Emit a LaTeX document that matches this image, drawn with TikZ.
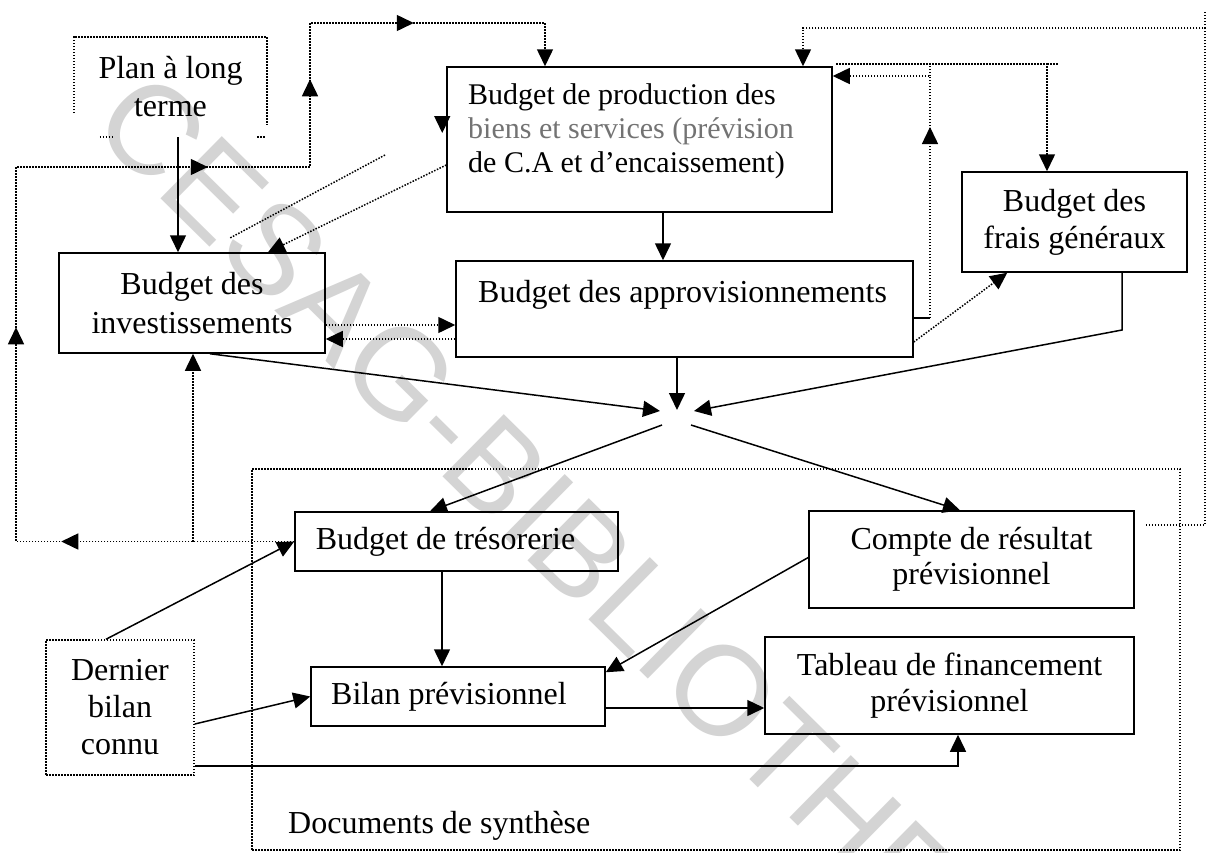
\documentclass[tikz,border=0pt]{standalone}
\usepackage{fontspec}
\setmainfont{Liberation Serif}
\newfontfamily\wmfont{Liberation Sans}
\usetikzlibrary{arrows.meta,decorations.markings}
\tikzset{BigTri/.tip={Triangle[length=17pt,width=16pt]}}
\begin{document}
\begin{tikzpicture}[x=1pt,y=-1pt,
  ln/.style={line width=1.5pt},
  dl/.style={line width=1.5pt, dash pattern=on 1.5pt off 1.5pt},
  tri/.style={-BigTri},
  mids/.style={postaction={decorate,decoration={markings,#1}}},
  box/.style={draw, line width=1.5pt, inner sep=0pt, align=center},
  dbox/.style={draw, line width=1.5pt, dash pattern=on 1.5pt off 1.5pt, inner sep=0pt, align=center},
  txt/.style={font=\fontsize{32}{37}\selectfont},
  wm/.style={font=\wmfont\fontsize{127}{127}\selectfont, text=black!17, inner sep=0pt}
]
\useasboundingbox (0,0) rectangle (1207,852);
\fill[white] (0,0) rectangle (1207,852);

% watermark
\node[wm, rotate=-44.6, anchor=base west] (wmark) at (88.5,127) {CESAG-BIBLIOTHEQUE};

% boxes
\node[minimum width=193pt, minimum height=100pt, inner sep=0pt, align=center, font=\fontsize{32}{38}\selectfont] (plan) at (170.5,87) {Plan à long\\terme};
\draw[dl] (plan.south west) ++(0,-24) -- (plan.north west) -- (plan.north east) -- ++(0,88);
\draw[dl] ([xshift=26pt]plan.south west) -- ++(15,0);
\draw[dl] ([xshift=-10pt]plan.south east) -- ++(8,0);

\node[box, txt, font=\fontsize{32}{39}\selectfont, minimum width=266pt, minimum height=100pt] (inv) at (192,303) {Budget des\\investissements};
\node[box, minimum width=385pt, minimum height=145pt] (prod) at (639.5,139.5) {};
\node[anchor=west, align=left, inner sep=0pt, font=\fontsize{30}{34}\selectfont] (prodtxt) at (468,131) {Budget de production des\\{\color{black!55}biens et services (prévision}\\de C.A et d’encaissement)};
\node[box, minimum width=457pt, minimum height=96pt] (appro) at (684.5,309) {};
\node[anchor=west, inner sep=0pt, txt] (approtxt) at (478,295) {Budget des approvisionnements};
\node[box, txt, minimum width=225pt, minimum height=100pt] (frais) at (1074.5,222) {Budget des\\frais généraux};
\node[box, txt, minimum width=323pt, minimum height=59pt] (treso) at (456.5,541.5) {Budget de trésorerie\hspace*{22pt}};
\node[box, txt, font=\fontsize{32}{35}\selectfont, minimum width=325pt, minimum height=97pt] (compte) at (971.5,559.5) {Compte de résultat\\prévisionnel};
\node[box, txt, minimum width=294pt, minimum height=59pt] (bilan) at (458,696.5) {Bilan prévisionnel\hspace*{18pt}};
\node[box, txt, font=\fontsize{32}{36}\selectfont, minimum width=369pt, minimum height=97pt] (tableau) at (949.5,685.5) {Tableau de financement\\prévisionnel};
\node[dbox, txt, minimum width=148pt, minimum height=135pt] (dernier) at (120,707.5) {Dernier\\bilan\\connu};
\node[dbox, minimum width=928pt, minimum height=381pt] (docs) at (716,659.5) {};
\node[anchor=west, inner sep=0pt, txt] (docstxt) at (288,826) {Documents de synthèse};

% coordinates
\coordinate (cA) at (677,410);
\coordinate (cL) at (660,411);
\coordinate (cR) at (694,411);
\coordinate (oL) at (662,425);
\coordinate (oR) at (691,425);
\coordinate (fk) at (1122,330);
\coordinate (L1) at (16,541.5);
\coordinate (L2) at (16,167);
\coordinate (L3) at (310,167);
\coordinate (L4) at (310,23);
\coordinate (L5) at (545,23);
\coordinate (Lb) at (193,541.5);
\coordinate (R1) at (1205,525);
\coordinate (R2) at (1205,28);
\coordinate (R3) at (803,28);
\coordinate (M1) at (930,318);
\coordinate (M2) at (930,76);
\coordinate (T1) at (836,64);
\coordinate (T2) at (1047,64);
\coordinate (T3) at (1058,64);
\coordinate (S1) at (385,155);
\coordinate (S2) at (230,238);

% solid connectors
\draw[ln,tri] ([xshift=7.5pt]plan.south) -- ([xshift=7.5pt]plan.south |- inv.north);
\draw[ln,tri] ([xshift=23.5pt]prod.south) -- ([xshift=23.5pt]prod.south |- appro.north);
\draw[ln,tri] ([xshift=-7.5pt]appro.south) -- (cA);
\draw[ln,tri] ([xshift=18pt]inv.south) -- (cL);
\draw[ln,tri] ([xshift=47.5pt]frais.south) -- (fk) -- (cR);
\draw[ln,tri] (oL) -- ([xshift=-26.5pt]treso.north);
\draw[ln,tri] (oR) -- ([xshift=-11.5pt]compte.north);
\draw[ln,tri] ([xshift=-14.5pt]treso.south) -- ([xshift=-14.5pt]treso.south |- bilan.north);
\draw[ln,tri] ([yshift=2pt]compte.west) -- ([yshift=-6pt]bilan.north east);
\draw[ln,tri] ([xshift=-14pt]dernier.north) -- (treso.west);
\draw[ln,tri] ([yshift=-16.5pt]dernier.east) -- (bilan.west);
\draw[ln,tri] ([yshift=-58.5pt]dernier.east) -| ([xshift=8.5pt]tableau.south);
\draw[ln,tri] ([yshift=-11.5pt]bilan.east) -- ([yshift=-11.5pt]bilan.east -| tableau.west);
\draw[ln,tri] ([xshift=-4pt,yshift=23.5pt]prod.west) -- ++(0,17);

% dotted connectors
\draw[dl,tri,mids={mark=at position 233pt with {\arrow{BigTri}},
                   mark=at position 492.5pt with {\arrow{BigTri}},
                   mark=at position 844.5pt with {\arrow{BigTri}},
                   mark=at position 1034.5pt with {\arrow{BigTri}},
                   mark=at position 1194.5pt with {\arrow{BigTri}}}]
  (treso.west) -- (L1) -- (L2) -- (L3) -- (L4) -- (L5) -- (L5 |- prod.north);
\draw[dl,tri] (Lb) -- (Lb |- inv.south);
\draw[dl,tri] ([xshift=11pt,yshift=34.5pt]compte.east) -- (R1) -- (R2) -- (R3) -- (R3 |- prod.north);
\draw[dl] (R2) -- ++(0,-16);
\draw[ln] ([yshift=-9pt]appro.east) -- (M1);
\draw[dl,tri,mids={mark=at position 191pt with {\arrow{BigTri}}}] (M1) -- (M2) -- (M2 -| prod.east);
\draw[dl] (M2) -- (M2 |- T1);
\draw[dl,tri] (T1) -- (T2) -- (T2 |- frais.north);
\draw[dl] (T2) -- (T3);
\draw[dl,tri] ([yshift=-33pt]appro.east) -- ([xshift=46pt]frais.south west);
\draw[dl,tri] ([yshift=-22pt]inv.east) -- ([yshift=-22pt]inv.east -| appro.west);
\draw[dl,tri] ([yshift=-36pt]inv.east -| appro.west) -- ([yshift=-36pt]inv.east);
\draw[dl,tri] ([yshift=-25.5pt]prod.west) -- ([xshift=76pt]inv.north);
\draw[dl] (S1) -- (S2);
\end{tikzpicture}
\end{document}
